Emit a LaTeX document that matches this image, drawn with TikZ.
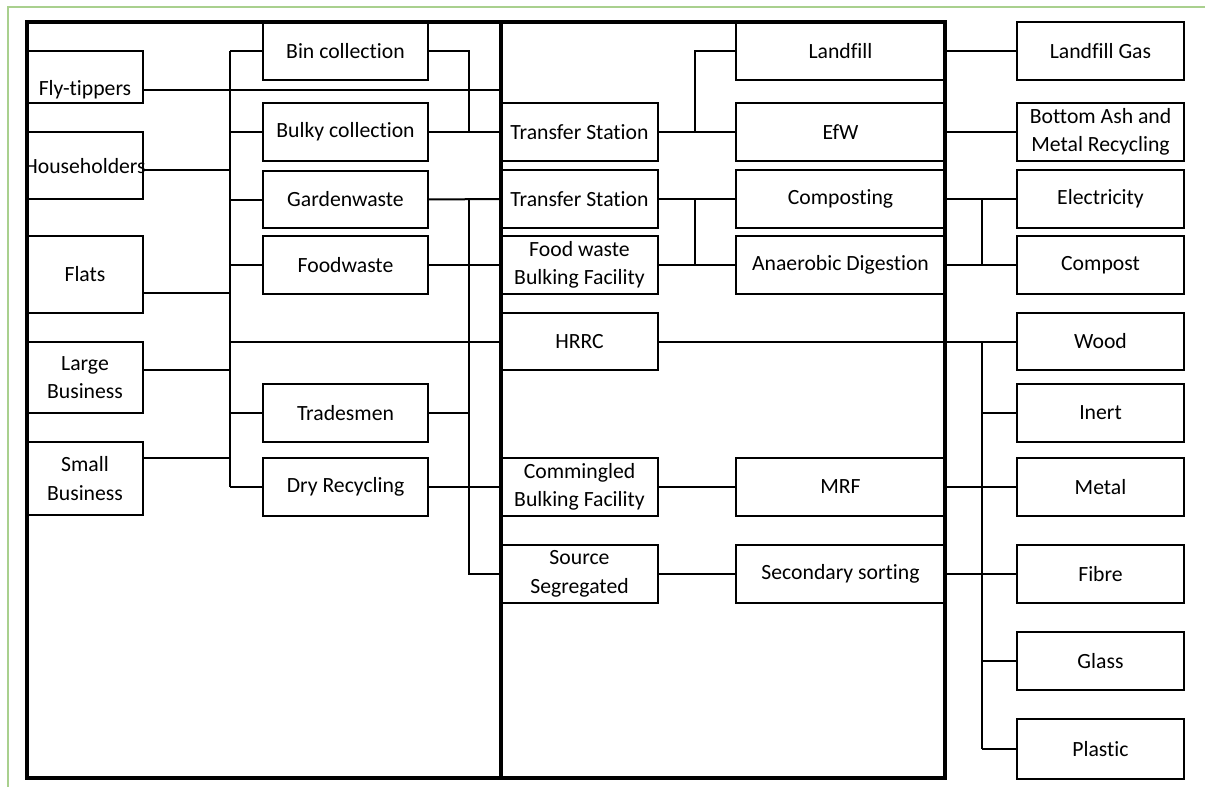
\documentclass[tikz,border=0pt]{standalone}
\usepackage{fontspec}
\setmainfont{Carlito}[Ligatures=NoCommon]
\usepackage{tikz}
\usetikzlibrary{positioning}
\definecolor{pagegreen}{RGB}{169,208,142}
\tikzstyle{box} = [rectangle, draw=black, line width=2pt, inner sep=0pt, outer sep=0pt, minimum height=58pt, text centered, align=center, font=\fontsize{21.7}{28.5}\selectfont]
\tikzstyle{source} = [box, minimum width=116pt]
\tikzstyle{collect} = [box, minimum width=165pt]
\tikzstyle{facility} = [box, minimum width=157pt]
\tikzstyle{treat} = [box, minimum width=209pt]
\tikzstyle{output} = [box, minimum width=167pt]
\tikzstyle{label} = [inner sep=0pt, font=\fontsize{21.7}{28.5}\selectfont]
\tikzstyle{link} = [line width=2pt]
\tikzstyle{frameline} = [line width=3.2pt]

\begin{document}
\begin{tikzpicture}[x=1pt, y=-1pt]
\useasboundingbox (0,0) rectangle (1205,787);

% Page border
\draw [pagegreen, line width=1.5pt] (8,787) -- (8,7) -- (1205,7);

% Outer frame and divider
\node (frame) [rectangle, draw, frameline, minimum width=918pt, minimum height=756pt, inner sep=0pt] at (486,400) {};
\coordinate (div) at (501,22);
\draw [frameline] (div |- frame.north) -- (div |- frame.south);

% Bus lines
\coordinate (busA) at (230,0);
\coordinate (busB) at (469,0);
\coordinate (busC) at (695,0);
\coordinate (busD) at (982,0);

% Waste sources
\node (fly) [source, minimum height=52pt] at (85,77) {};
\node (flytext) [label] at (85,90) {Fly-tippers};
\node (house) [source, minimum height=67pt] at (85,165.5) {};
\node (housetext) [label] at (85,166) {Householders};
\node (flats) [source, minimum height=77pt] at (85,274.5) {Flats};
\node (large) [source, minimum height=71pt] at (85,377.5) {Large\\Business};
\node (small) [source, minimum height=73pt] at (85,478.5) {Small\\Business};

% Collection
\node (bin) [collect] at (345.5,51) {Bin collection};
\node (bulky) [collect] at (345.5,132) {Bulky collection};
\node (garden) [collect, minimum height=57pt] at (345.5,199.5) {Gardenwaste};
\node (foodw) [collect] at (345.5,265) {Foodwaste};
\node (trades) [collect] at (345.5,413) {Tradesmen};
\node (dry) [collect] at (345.5,487) {Dry Recycling};

% Facilities
\node (tsone) [facility] at (579.5,132) {Transfer Station};
\node (tstwo) [facility] at (579.5,199) {Transfer Station};
\node (fwbulk) [facility] at (579.5,265) {Food waste\\Bulking Facility};
\node (hrrc) [facility, minimum height=57pt] at (579.5,341.5) {HRRC};
\node (comm) [facility] at (579.5,487) {Commingled\\Bulking Facility};
\node (srcseg) [facility] at (579.5,574) {Source\\Segregated};

% Treatment
\node (landfill) [treat] at (840.5,51) {Landfill};
\node (efw) [treat] at (840.5,132) {EfW};
\node (compo) [treat] at (840.5,199) {Composting};
\node (ad) [treat] at (840.5,265) {Anaerobic Digestion};
\node (mrf) [treat] at (840.5,487) {MRF};
\node (secsort) [treat] at (840.5,574) {Secondary sorting};

% Outputs
\node (lfgas) [output] at (1100.5,51) {Landfill Gas};
\node (ash) [output] at (1100.5,132) {Bottom Ash and\\Metal Recycling};
\node (elec) [output] at (1100.5,199) {Electricity};
\node (compost) [output] at (1100.5,265) {Compost};
\node (wood) [output, minimum height=57pt] at (1100.5,341.5) {Wood};
\node (inert) [output] at (1100.5,413) {Inert};
\node (metal) [output] at (1100.5,487) {Metal};
\node (fibre) [output] at (1100.5,574) {Fibre};
\node (glass) [output] at (1100.5,661) {Glass};
\node (plastic) [output, minimum height=60pt] at (1100.5,749) {Plastic};

% Sources to collection
\draw [link] (fly.east |- flytext) -- (div |- flytext);
\draw [link] (house.east |- 0,170) -- (busA |- 0,170);
\draw [link] (flats.east |- 0,293) -- (busA |- 0,293);
\draw [link] (large.east |- 0,370) -- (busA |- 0,370);
\draw [link] (small.east |- 0,458) -- (busA |- 0,458);
\draw [link] (busA |- bin.west) -- (busA |- dry.west);
\foreach \n in {bin,bulky,garden,foodw,trades,dry}
  \draw [link] (busA |- \n.west) -- (\n.west);
\draw [link] (busA |- hrrc.west) -- (hrrc.west);

% Collection to facilities
\draw [link] (bin.east) -| (busB |- bulky.east);
\draw [link] (bulky.east) -- (tsone.west);
\draw [link] (garden.east) -- (tstwo.west);
\draw [link] (foodw.east) -- (fwbulk.west);
\draw [link] (dry.east) -- (comm.west);
\draw [link] (trades.east) -- (busB |- trades.east);
\draw [link] (busB |- garden.east) |- (srcseg.west);

% Facilities to treatment
\draw [link] (tsone.east) -- (efw.west);
\draw [link] (busC |- tsone.east) |- (landfill.west);
\draw [link] (tstwo.east) -- (compo.west);
\draw [link] (fwbulk.east) -- (ad.west);
\draw [link] (busC |- tstwo.east) -- (busC |- fwbulk.east);
\draw [link] (comm.east) -- (mrf.west);
\draw [link] (srcseg.east) -- (secsort.west);
\draw [link] (hrrc.east) -- (wood.west);

% Treatment to outputs
\draw [link] (landfill.east) -- (lfgas.west);
\draw [link] (efw.east) -- (ash.west);
\draw [link] (compo.east) -- (elec.west);
\draw [link] (ad.east) -- (compost.west);
\draw [link] (busD |- elec.west) -- (busD |- compost.west);
\draw [link] (mrf.east) -- (metal.west);
\draw [link] (secsort.east) -- (fibre.west);
\draw [link] (busD |- wood.west) -- (busD |- plastic.west);
\foreach \n in {inert,glass,plastic}
  \draw [link] (busD |- \n.west) -- (\n.west);

\end{tikzpicture}
\end{document}
